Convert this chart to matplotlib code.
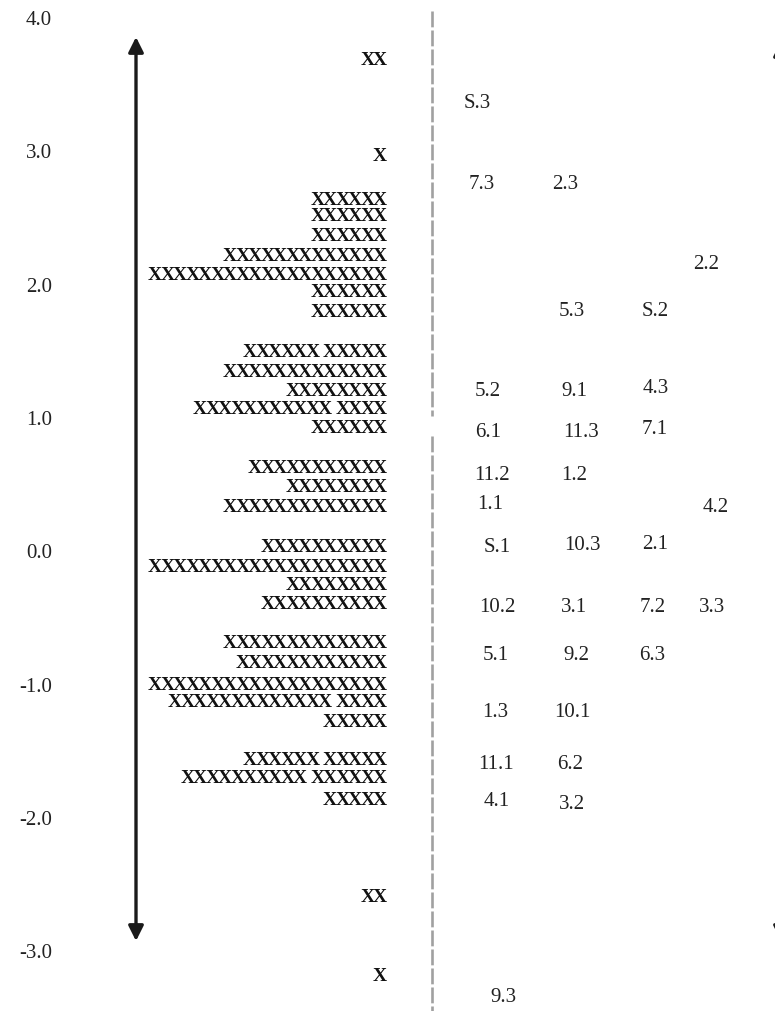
import matplotlib
matplotlib.use("Agg")
import matplotlib.pyplot as plt

plt.rcParams["font.family"] = ["Liberation Serif", "DejaVu Serif"]

# Logit scale ticks
tick_values = [4.0, 3.0, 2.0, 1.0, 0.0, -1.0, -2.0, -3.0]

# Person distribution: each row of X's sits at its logit level
person_levels = [3.70, 2.98, 2.65, 2.53, 2.38, 2.23, 2.09, 1.96, 1.81,
                 1.51, 1.36, 1.22, 1.08, 0.94,
                 0.64, 0.50, 0.35,
                 0.05, -0.10, -0.24, -0.38,
                 -0.67, -0.82, -0.99, -1.12, -1.27,
                 -1.55, -1.69, -1.85,
                 -2.58, -3.17]
person_rows = ["XX", "X", "XXXXXX", "XXXXXX", "XXXXXX", "XXXXXXXXXXXXX",
               "XXXXXXXXXXXXXXXXXXX", "XXXXXX", "XXXXXX",
               "XXXXXX XXXXX", "XXXXXXXXXXXXX", "XXXXXXXX",
               "XXXXXXXXXXX XXXX", "XXXXXX",
               "XXXXXXXXXXX", "XXXXXXXX", "XXXXXXXXXXXXX",
               "XXXXXXXXXX", "XXXXXXXXXXXXXXXXXXX", "XXXXXXXX", "XXXXXXXXXX",
               "XXXXXXXXXXXXX", "XXXXXXXXXXXX", "XXXXXXXXXXXXXXXXXXX",
               "XXXXXXXXXXXXX XXXX", "XXXXX",
               "XXXXXX XXXXX", "XXXXXXXXXX XXXXXX", "XXXXX",
               "XX", "X"]

# Item difficulties
item_labels = ["S.3", "7.3", "2.3", "2.2", "5.3", "S.2",
               "5.2", "9.1", "4.3", "6.1", "11.3", "7.1",
               "11.2", "1.2", "1.1", "4.2",
               "S.1", "10.3", "2.1",
               "10.2", "3.1", "7.2", "3.3",
               "5.1", "9.2", "6.3",
               "1.3", "10.1", "11.1", "6.2", "4.1", "3.2", "9.3"]
item_levels = [3.38, 2.77, 2.77, 2.17, 1.82, 1.82,
               1.22, 1.22, 1.24, 0.91, 0.91, 0.93,
               0.59, 0.59, 0.37, 0.35,
               0.05, 0.06, 0.07,
               -0.40, -0.40, -0.40, -0.40,
               -0.76, -0.76, -0.76,
               -1.19, -1.19, -1.58, -1.58, -1.86, -1.88, -3.33]

# Horizontal placement of the item labels (centre, in figure pixels)
item_x = [477, 482, 565, 706, 572, 655,
          488, 574, 656, 488, 581, 655,
          492, 574, 490, 716,
          497, 582, 655,
          497, 574, 653, 712,
          496, 576, 652,
          495, 572, 496, 570, 497, 572, 503]

W, H = 775, 1012
px_per_unit = 133.3
top_px = 20.5
y_top = 4.0 + top_px / px_per_unit
y_bot = 4.0 - (H - top_px) / px_per_unit

fig = plt.figure(figsize=(W / 100, H / 100), dpi=100)
ax = fig.add_axes([0, 0, 1, 1])
ax.set_xlim(0, W)
ax.set_ylim(y_bot, y_top)
ax.axis("off")

def px_to_y(p):
    return 4.0 - (p - top_px) / px_per_unit

# Scale labels
for v in tick_values:
    ax.text(52, v, f"{v:.1f}", ha="right", va="center", fontsize=15,
            color="#222222")

# Double-headed arrows (left and right edges)
arrow_style = dict(arrowstyle="<|-|>,head_length=0.9,head_width=0.45",
                   color="#1a1a1a", lw=2.4, shrinkA=0, shrinkB=0)
ax.annotate("", xy=(136, px_to_y(942)), xytext=(136, px_to_y(38)),
            arrowprops=arrow_style)
ax.annotate("", xy=(781, px_to_y(942)), xytext=(781, px_to_y(42)),
            arrowprops=arrow_style, annotation_clip=False)

# Dashed separator between persons and items
dash = dict(color="#a0a0a0", lw=1.9, ls=(0, (6.0, 1.2)),
            dash_capstyle="butt")
ax.plot([432, 432], [px_to_y(12), px_to_y(417)], **dash)
ax.plot([432, 432], [px_to_y(437), px_to_y(H)], **dash)

# Person rows, right-aligned against the separator; glyphs are set on a
# tight pitch so neighbouring X's link up into a chain
x_pitch, gap_pitch, right_edge = 12.5, 5.0, 386.0
for lvl, row in zip(person_levels, person_rows):
    cx = right_edge - x_pitch / 2
    for ch in reversed(row):
        if ch == " ":
            cx -= gap_pitch
            continue
        ax.text(cx, lvl, ch, ha="center", va="center", fontsize=14,
                fontweight="bold", color="#111111")
        cx -= x_pitch

# Item labels
for lab, lvl, x in zip(item_labels, item_levels, item_x):
    ax.text(x, lvl, lab, ha="center", va="center", fontsize=15,
            color="#222222")

fig.savefig("out.png", dpi=100)
